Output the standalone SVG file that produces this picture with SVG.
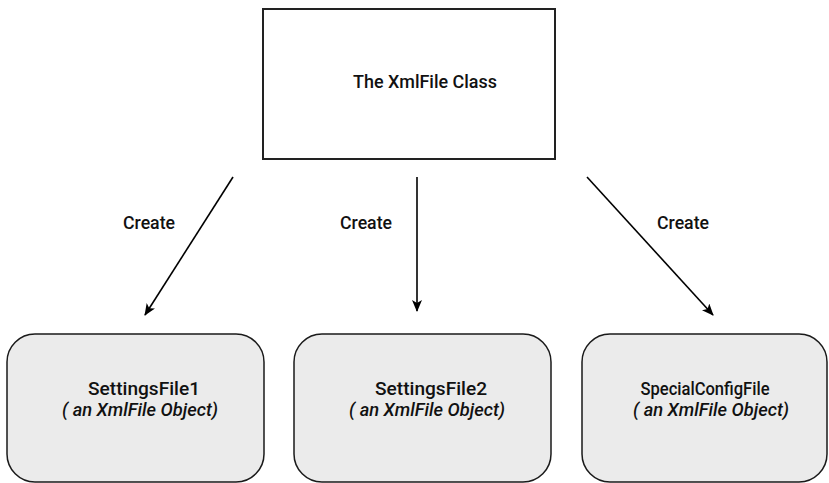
<svg xmlns="http://www.w3.org/2000/svg" width="829" height="483" viewBox="0 0 829 483">
<style>
.t{font-family:Roboto,"Liberation Sans",Arial,sans-serif;font-weight:500;font-size:19px;fill:#111;text-anchor:middle}
.i{font-style:italic}
.obj{fill:#ebebeb;stroke:#1a1a1a;stroke-width:1.5}
.cls{fill:#fff;stroke:#222;stroke-width:2}
.c{stroke:#000;stroke-width:1.6;fill:none;marker-end:url(#ah)}
</style>
<defs>
<marker id="ah" viewBox="0 0 12 10" refX="11" refY="5" markerWidth="12" markerHeight="10" markerUnits="userSpaceOnUse" orient="auto">
<path d="M0,0 L12,5 L0,10 L3,5 Z" fill="#000"/>
</marker>
</defs>
<g id="xmlfile-class">
<rect class="cls" x="263" y="9" width="292" height="150"/>
<text class="t" x="425" y="88" textLength="144" lengthAdjust="spacingAndGlyphs">The XmlFile Class</text>
</g>
<g id="settingsfile1">
<rect class="obj" x="7" y="334" width="257" height="148" rx="28"/>
<text class="t" x="144" y="395" textLength="112" lengthAdjust="spacingAndGlyphs">SettingsFile1</text>
<text class="t i" x="140" y="416" textLength="156" lengthAdjust="spacingAndGlyphs">( an XmlFile Object)</text>
</g>
<g id="settingsfile2">
<rect class="obj" x="294" y="334" width="257" height="148" rx="28"/>
<text class="t" x="431" y="395" textLength="112" lengthAdjust="spacingAndGlyphs">SettingsFile2</text>
<text class="t i" x="427" y="416" textLength="156" lengthAdjust="spacingAndGlyphs">( an XmlFile Object)</text>
</g>
<g id="specialconfigfile">
<rect class="obj" x="582" y="334" width="245" height="148" rx="28"/>
<text class="t" x="705" y="395" textLength="129" lengthAdjust="spacingAndGlyphs">SpecialConfigFile</text>
<text class="t i" x="711" y="416" textLength="156" lengthAdjust="spacingAndGlyphs">( an XmlFile Object)</text>
</g>
<g id="connectors">
<line class="c" x1="233" y1="177" x2="145" y2="315"/>
<line class="c" x1="417" y1="177" x2="417" y2="311"/>
<line class="c" x1="587" y1="177" x2="713" y2="315"/>
<text class="t" x="149" y="229" textLength="52" lengthAdjust="spacingAndGlyphs">Create</text>
<text class="t" x="366" y="229" textLength="52" lengthAdjust="spacingAndGlyphs">Create</text>
<text class="t" x="683" y="229" textLength="52" lengthAdjust="spacingAndGlyphs">Create</text>
</g>
</svg>
